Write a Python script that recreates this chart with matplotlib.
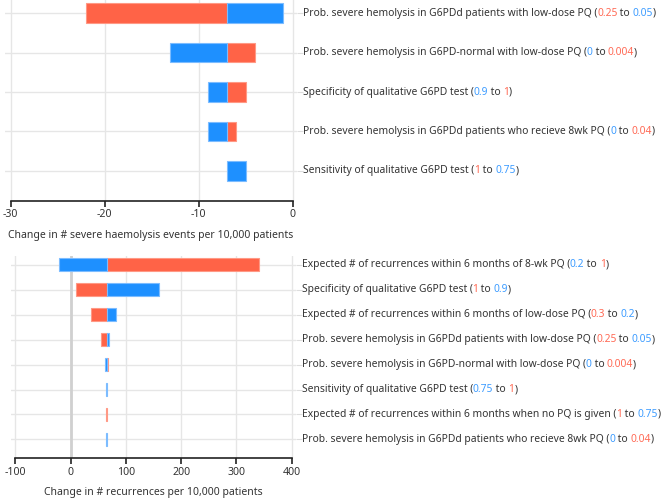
import numpy as np
import matplotlib
matplotlib.use("Agg")
import matplotlib.pyplot as plt

plt.rcParams['font.family'] = ['Noto Sans', 'DejaVu Sans']
plt.rcParams['font.size'] = 7.4

RED = '#ff6347'
BLUE = '#1e90ff'
RED_TXT = '#ff6a55'
BLUE_TXT = '#3d9cff'

# top panel: change in # severe haemolysis events per 10,000 patients
top_base = -7
top_names = [
    "Prob. severe hemolysis in G6PDd patients with low-dose PQ",
    "Prob. severe hemolysis in G6PD-normal with low-dose PQ",
    "Specificity of qualitative G6PD test",
    "Prob. severe hemolysis in G6PDd patients who recieve 8wk PQ",
    "Sensitivity of qualitative G6PD test",
]
top_lo = ["0.25", "0", "0.9", "0", "1"]
top_hi = ["0.05", "0.004", "1", "0.04", "0.75"]
top_lo_col = ['r', 'b', 'b', 'b', 'r']
top_red = [-22, -4, -5, -6, -7]
top_blue = [-1, -13, -9, -9, -5]

# bottom panel: change in # recurrences per 10,000 patients
bot_base = 66.5
bot_names = [
    "Expected # of recurrences within 6 months of 8-wk PQ",
    "Specificity of qualitative G6PD test",
    "Expected # of recurrences within 6 months of low-dose PQ",
    "Prob. severe hemolysis in G6PDd patients with low-dose PQ",
    "Prob. severe hemolysis in G6PD-normal with low-dose PQ",
    "Sensitivity of qualitative G6PD test",
    "Expected # of recurrences within 6 months when no PQ is given",
    "Prob. severe hemolysis in G6PDd patients who recieve 8wk PQ",
]
bot_lo = ["0.2", "1", "0.3", "0.25", "0", "0.75", "1", "0"]
bot_hi = ["1", "0.9", "0.2", "0.05", "0.004", "1", "0.75", "0.04"]
bot_lo_col = ['b', 'r', 'r', 'r', 'b', 'b', 'r', 'b']
bot_red = [340, 9, 37, 55, 67.5, 66.5, 64.5, 66.5]
bot_blue = [-21, 159.5, 81.5, 69, 62, 64.5, 66.5, 64.5]

W, H = 662, 501
fig = plt.figure(figsize=(W / 100, H / 100), dpi=100)


def px_axes(x0, x1, y0, y1):
    return fig.add_axes([x0 / W, 1 - y1 / H, (x1 - x0) / W, (y1 - y0) / H])


def rainbow_label(ax, y, parts):
    prev = ax.annotate(parts[0][0], xy=(1, y), xycoords=ax.get_yaxis_transform(),
                       xytext=(4, 0), textcoords='offset points',
                       va='center', ha='left', color=parts[0][1], annotation_clip=False)
    for t, c in parts[1:]:
        prev = ax.annotate(t, xy=(1, 0), xycoords=prev, va='bottom', ha='left',
                           color=c, annotation_clip=False)


def tornado(ax, base, red, blue, names, lo, hi, lo_col, xlim, xticks, ylim, height, xlabel, zero_dark):
    n = len(names)
    ypos = np.arange(n)
    for i in range(n):
        span = max(abs(red[i] - base), abs(blue[i] - base))
        faded = span < 3.5 and i >= 5
        rc = '#ffa493' if faded else RED
        bc = '#8cc5ff' if faded else BLUE
        if red[i] != base:
            ax.barh(ypos[i], red[i] - base, left=base, height=height, color=rc,
                    edgecolor='#ff9985', linewidth=0.8, zorder=3)
        if blue[i] != base:
            ax.barh(ypos[i], blue[i] - base, left=base, height=height, color=bc,
                    edgecolor='#7cbcff', linewidth=0.8, zorder=3)
    ax.set_xlim(*xlim)
    ax.set_ylim(*ylim)
    ax.set_xticks(xticks)
    ax.set_xticklabels([str(t) for t in xticks])
    ax.set_yticks(ypos)
    ax.set_yticklabels([])
    ax.yaxis.tick_right()
    ax.tick_params(axis='y', length=4, color='#dddddd', width=0.8)
    ax.tick_params(axis='x', length=4, color='#222222', width=1.2, labelcolor='#333333',
                   labelsize=7.6, pad=2)
    for s in ['top', 'left', 'right']:
        ax.spines[s].set_visible(False)
    ax.spines['bottom'].set_bounds(xticks[0], xticks[-1])
    ax.spines['bottom'].set_linewidth(1.2)
    ax.spines['bottom'].set_color('#222222')
    ax.grid(True, color='#e6e6e6', linewidth=1, zorder=0)
    ax.set_axisbelow(True)
    if zero_dark:
        ax.axvline(0, color='#d0d0d0', linewidth=2, zorder=1)
    ax.set_xlabel(xlabel, color='#333333', labelpad=7, fontsize=7.5)
    for i in range(n):
        c_lo = RED_TXT if lo_col[i] == 'r' else BLUE_TXT
        c_hi = BLUE_TXT if lo_col[i] == 'r' else RED_TXT
        parts = [(names[i] + " (", '#333333'), (lo[i], c_lo), (" to ", '#333333'),
                 (hi[i], c_hi), (")", '#333333')]
        rainbow_label(ax, ypos[i], parts)


ax1 = px_axes(5, 297, 0, 201)
tornado(ax1, top_base, top_red, top_blue, top_names, top_lo, top_hi, top_lo_col,
        (-30.6, 0.46), [-30, -20, -10, 0], (4.76, -0.33), 0.5,
        "Change in # severe haemolysis events per 10,000 patients", False)

ax2 = px_axes(10.7, 296, 256, 458.3)
tornado(ax2, bot_base, bot_red, bot_blue, bot_names, bot_lo, bot_hi, bot_lo_col,
        (-108.3, 407.6), [-100, 0, 100, 200, 300, 400], (7.76, -0.36), 0.52,
        "Change in # recurrences per 10,000 patients", True)

fig.savefig("out.png", dpi=100)
